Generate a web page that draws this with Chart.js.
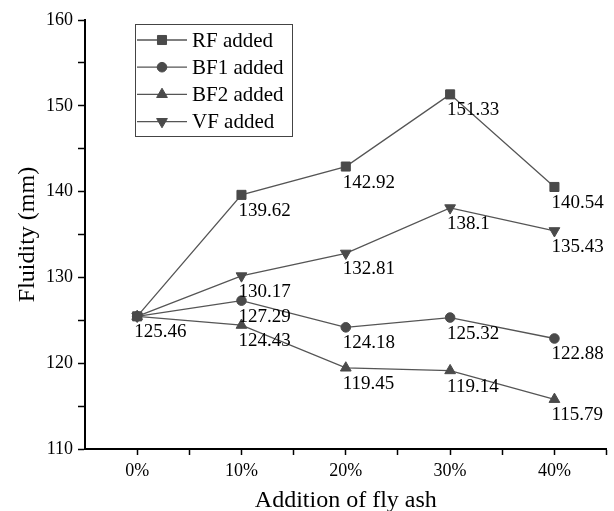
<!DOCTYPE html>
<html>
<head>
<meta charset="utf-8">
<title>Fluidity vs fly ash addition</title>
<script src="https://cdn.jsdelivr.net/npm/chart.js@4.4.1/dist/chart.umd.min.js"></script>
<style>
  body { margin: 0; background: #fff; }
  #wrap { width: 614px; height: 511px; }
</style>
</head>
<body>
<div id="wrap"><canvas id="fluidityChart" width="614" height="511"></canvas></div>
<script>
// ── data ──
const CATEGORIES = ['0%', '10%', '20%', '30%', '40%'];
const RF_ADDED  = [125.46, 139.62, 142.92, 151.33, 140.54];
const BF1_ADDED = [125.46, 127.29, 124.18, 125.32, 122.88];
const BF2_ADDED = [125.46, 124.43, 119.45, 119.14, 115.79];
const VF_ADDED  = [125.46, 130.17, 132.81, 138.1, 135.43];
const Y_TICKS   = [110, 120, 130, 140, 150, 160];

const SERIF = '"Liberation Serif", "Times New Roman", serif';
const LINE_COLOR = '#555555';
const MARK_COLOR = '#4a4a4a';

function series(label, values, style, radius, rotation) {
  return {
    label,
    data: values.map((v, i) => ({ x: i, y: v })),
    borderColor: LINE_COLOR,
    borderWidth: 1.3,
    backgroundColor: MARK_COLOR,
    pointStyle: style,
    pointRadius: radius,
    pointHoverRadius: radius,
    pointRotation: rotation || 0,
    pointBackgroundColor: MARK_COLOR,
    pointBorderColor: MARK_COLOR,
    pointBorderWidth: 1,
    tension: 0,
    fill: false,
  };
}

// value labels under each marker (shared start point labelled once)
const valueLabels = {
  id: 'valueLabels',
  afterDatasetsDraw(chart) {
    const ctx = chart.ctx;
    const seen = new Set();
    ctx.save();
    ctx.font = '19px ' + SERIF;
    ctx.fillStyle = '#000';
    ctx.textAlign = 'left';
    ctx.textBaseline = 'alphabetic';
    chart.data.datasets.forEach((ds, di) => {
      const meta = chart.getDatasetMeta(di);
      ds.data.forEach((p, i) => {
        const key = i + ':' + p.y;
        if (seen.has(key)) return;
        seen.add(key);
        const el = meta.data[i];
        ctx.fillText(String(p.y), el.x - 3, el.y + 21);
      });
    });
    ctx.restore();
  }
};

// boxed legend with line + marker samples
const lineLegend = {
  id: 'lineLegend',
  afterDraw(chart) {
    const ctx = chart.ctx;
    const box = { x: 135, y: 24, w: 157, h: 112 };
    ctx.save();
    ctx.fillStyle = '#fff';
    ctx.fillRect(box.x, box.y, box.w, box.h);
    ctx.strokeStyle = '#444';
    ctx.lineWidth = 1;
    ctx.strokeRect(box.x + 0.5, box.y + 0.5, box.w, box.h);
    ctx.font = '21px ' + SERIF;
    ctx.textBaseline = 'middle';
    ctx.textAlign = 'left';
    chart.data.datasets.forEach((ds, i) => {
      const cy = box.y + 16 + i * 27.2;
      ctx.strokeStyle = ds.borderColor;
      ctx.lineWidth = ds.borderWidth;
      ctx.beginPath();
      ctx.moveTo(box.x + 2, cy);
      ctx.lineTo(box.x + 52, cy);
      ctx.stroke();
      ctx.fillStyle = ds.pointBackgroundColor;
      ctx.strokeStyle = ds.pointBorderColor;
      ctx.lineWidth = 1;
      Chart.helpers.drawPoint(ctx, {
        pointStyle: ds.pointStyle,
        radius: ds.pointRadius,
        rotation: ds.pointRotation,
        borderWidth: 1
      }, box.x + 27, cy);
      ctx.fillStyle = '#000';
      ctx.fillText(ds.label, box.x + 57, cy + 1);
    });
    ctx.restore();
  }
};

new Chart(document.getElementById('fluidityChart'), {
  type: 'line',
  data: {
    datasets: [
      series('RF added',  RF_ADDED,  'rect', 6.4),
      series('BF1 added', BF1_ADDED, 'circle', 4.8),
      series('BF2 added', BF2_ADDED, 'triangle', 6.2),
      series('VF added',  VF_ADDED,  'triangle', 6.2, 180),
    ]
  },
  options: {
    responsive: false,
    animation: false,
    layout: { padding: { top: 20, right: 0, bottom: 0, left: 0 } },
    plugins: {
      legend: { display: false },
      tooltip: { enabled: false }
    },
    scales: {
      x: {
        type: 'linear',
        min: -0.5,
        max: CATEGORIES.length - 0.5,
        afterBuildTicks: axis => {
          const ticks = [];
          CATEGORIES.forEach((c, i) => {
            ticks.push({ value: i });
            ticks.push({ value: i + 0.5 });
          });
          axis.ticks = ticks;
        },
        afterFit: axis => { axis.height = 62; },
        ticks: {
          autoSkip: false,
          maxRotation: 0,
          padding: 5,
          color: '#000',
          font: { family: SERIF, size: 18 },
          callback: v => Number.isInteger(v) ? CATEGORIES[v] : ''
        },
        grid: {
          drawOnChartArea: false,
          drawTicks: true,
          tickLength: 6,
          tickColor: '#000',
          tickWidth: 1.5
        },
        border: { display: true, color: '#000', width: 2 },
        title: {
          display: true,
          text: 'Addition of fly ash',
          color: '#000',
          font: { family: SERIF, size: 24, lineHeight: 1 },
          padding: { top: 0, bottom: -2 }
        }
      },
      y: {
        min: Y_TICKS[0],
        max: Y_TICKS[Y_TICKS.length - 1],
        afterBuildTicks: axis => {
          const ticks = [];
          Y_TICKS.forEach((t, i) => {
            ticks.push({ value: t });
            if (i < Y_TICKS.length - 1) ticks.push({ value: (t + Y_TICKS[i + 1]) / 2 });
          });
          axis.ticks = ticks;
        },
        afterFit: axis => { axis.width = 85; },
        ticks: {
          autoSkip: false,
          padding: 5,
          color: '#000',
          font: { family: SERIF, size: 18 },
          callback: v => Y_TICKS.includes(v) ? String(v) : ''
        },
        grid: {
          drawOnChartArea: false,
          drawTicks: true,
          tickLength: 7,
          tickColor: '#000',
          tickWidth: 1.5
        },
        border: { display: true, color: '#000', width: 2 },
        title: {
          display: true,
          text: 'Fluidity (mm)',
          color: '#000',
          font: { family: SERIF, size: 24, lineHeight: 1 },
          padding: { top: 16, bottom: 0 }
        }
      }
    }
  },
  plugins: [valueLabels, lineLegend]
});
</script>
</body>
</html>
